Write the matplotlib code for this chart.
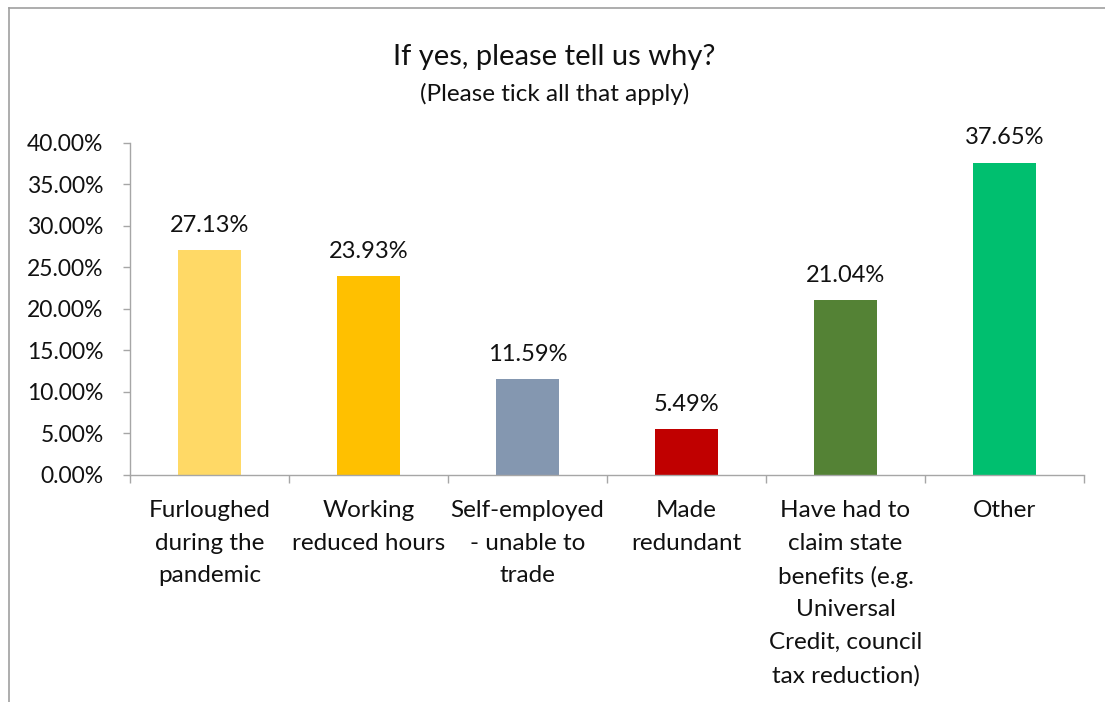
import matplotlib.pyplot as plt
from matplotlib.lines import Line2D
from matplotlib.ticker import FixedLocator, FuncFormatter

plt.rcParams['font.family'] = ['Lato', 'DejaVu Sans']

categories = [
    "Furloughed\nduring the\npandemic",
    "Working\nreduced hours",
    "Self-employed\n- unable to\ntrade",
    "Made\nredundant",
    "Have had to\nclaim state\nbenefits (e.g.\nUniversal\nCredit, council\ntax reduction)",
    "Other",
]
values = [27.13, 23.93, 11.59, 5.49, 21.04, 37.65]
colors = ["#FFD966", "#FFC000", "#8497B0", "#C00000", "#548235", "#00BF6F"]
y_ticks = [0, 5, 10, 15, 20, 25, 30, 35, 40]

fig = plt.figure(figsize=(11.05, 7.02), dpi=100)
ax = fig.add_axes([0.1176, 0.3234, 0.8634, 0.4729])

x = list(range(len(values)))
ax.bar(x, values, width=0.4, color=colors)

for xi, v in zip(x, values):
    ax.annotate(f"{v:.2f}%", (xi, v), xytext=(0, 13), textcoords="offset points",
                ha="center", va="baseline", fontsize=17, color="#111111")

ax.set_xlim(-0.5, len(values) - 0.5)
ax.set_ylim(0, 40)
ax.set_yticks(y_ticks)
ax.yaxis.set_major_formatter(FuncFormatter(lambda v, p: f"{v:.2f}%"))
ax.tick_params(axis="y", length=5, width=1, color="#A6A6A6", pad=14,
               labelsize=16.5, labelcolor="#111111")

# boundaries carry the tick marks, centres carry the labels
ax.xaxis.set_major_locator(FixedLocator([i - 0.5 for i in range(len(values) + 1)]))
ax.xaxis.set_major_formatter(FuncFormatter(lambda v, p: ""))
ax.xaxis.set_minor_locator(FixedLocator(x))
ax.set_xticklabels(categories, minor=True, fontsize=17.5, color="#111111",
                   linespacing=1.68)
ax.tick_params(axis="x", which="major", length=6, width=1, color="#A6A6A6")
ax.tick_params(axis="x", which="minor", length=0, pad=18)

for side in ["top", "right"]:
    ax.spines[side].set_visible(False)
for side in ["left", "bottom"]:
    ax.spines[side].set_color("#A6A6A6")
    ax.spines[side].set_linewidth(1)

fig.text(0.5015, 1 - 65 / 702, "If yes, please tell us why?", ha="center",
         va="baseline", fontsize=21, color="#111111")
fig.text(0.5015, 1 - 101 / 702, "(Please tick all that apply)", ha="center",
         va="baseline", fontsize=17.5, color="#111111")

# chart frame
fx = 8.5 / 1105
fy = 1 - 7.5 / 702
fig.add_artist(Line2D([fx, fx], [0, fy], color="#A0A0A0", lw=1.2))
fig.add_artist(Line2D([fx, 1], [fy, fy], color="#A0A0A0", lw=1.2))

fig.savefig("out.png", dpi=100)
